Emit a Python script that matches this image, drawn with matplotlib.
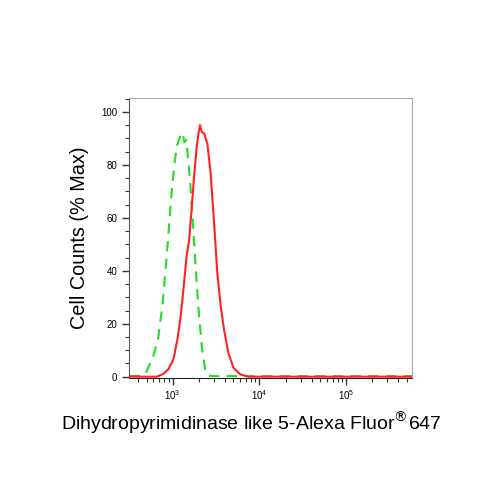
import numpy as np
import matplotlib.pyplot as plt
from matplotlib.ticker import LogLocator, MultipleLocator, NullFormatter

plt.rcParams['font.family'] = ['Liberation Sans', 'DejaVu Sans']

# isotype control (green dashed), log10 intensity vs % max
control_log = [2.50, 2.60, 2.66, 2.70, 2.777, 2.835, 2.885, 2.93, 2.96, 2.99, 3.015, 3.046,
               3.085, 3.115, 3.135, 3.154, 3.18, 3.208, 3.238, 3.27, 3.296, 3.335, 3.373,
               3.41, 3.5, 4.0, 5.0, 5.76]
control_pct = [0.3, 0.3, 0.5, 2.0, 7.8, 15.0, 28.0, 45.0, 58.0, 70.5, 79.0, 87.0,
               90.6, 92.2, 88.5, 89.5, 81.8, 70.5, 55.5, 39.0, 26.6, 11.5, 2.8,
               0.3, 0.2, 0.2, 0.2, 0.2]

# antibody stained (red solid)
stained_log = [2.50, 2.815, 2.89, 2.95, 3.008, 3.054, 3.092, 3.13, 3.16, 3.19, 3.22, 3.246,
               3.277, 3.30, 3.315, 3.335, 3.365, 3.40, 3.438, 3.477, 3.515, 3.554, 3.592,
               3.642, 3.70, 3.777, 3.873, 4.5, 5.76]
stained_pct = [0.0, 0.0, 1.0, 2.8, 6.5, 14.0, 22.8, 35.0, 45.4, 51.7, 64.0, 75.5,
               86.8, 92.5, 95.0, 92.5, 91.8, 88.0, 76.8, 58.0, 39.0, 26.6, 17.8,
               9.0, 3.4, 0.9, 0.0, 0.0, 0.0]

control_x = 10 ** np.array(control_log)
stained_x = 10 ** np.array(stained_log)

fig = plt.figure(figsize=(5, 5), dpi=100)
ax = fig.add_axes([0.258, 0.244, 0.566, 0.560])

ax.plot(control_x, control_pct, color='#22dd22', lw=1.5, ls=(0, (5, 3.5)))
ax.plot(stained_x, stained_pct, color='#ff2222', lw=1.5)

ax.set_xscale('log')
ax.set_xlim(10 ** 2.496, 10 ** 5.76)
ax.set_ylim(-0.5, 105.3)

ax.xaxis.set_major_locator(LogLocator(base=10, numticks=10))
ax.xaxis.set_minor_locator(LogLocator(base=10, subs=np.arange(2, 10), numticks=20))
ax.xaxis.set_minor_formatter(NullFormatter())
ax.yaxis.set_major_locator(MultipleLocator(20))
ax.yaxis.set_minor_locator(MultipleLocator(5))

ax.tick_params(axis='both', which='major', labelsize=7, length=5, width=1, color='#333333')
ax.tick_params(axis='both', which='minor', length=3, width=0.8, color='#333333')
ax.tick_params(axis='x', which='major', pad=2)

for side in ['top', 'right']:
    ax.spines[side].set_color('#aaaaaa')
    ax.spines[side].set_linewidth(0.8)
ax.spines['left'].set_color('#555555')
ax.spines['bottom'].set_color('#222222')

ax.set_ylabel('Cell Counts (% Max)', fontsize=14.3)
ax.yaxis.set_label_coords(-0.14, 0.5)
ax.set_xlabel('Dihydropyrimidinase like 5-Alexa Fluor$^{®}$647', fontsize=14)
ax.xaxis.set_label_coords(0.431, -0.115)

fig.savefig('out.png', dpi=100)
